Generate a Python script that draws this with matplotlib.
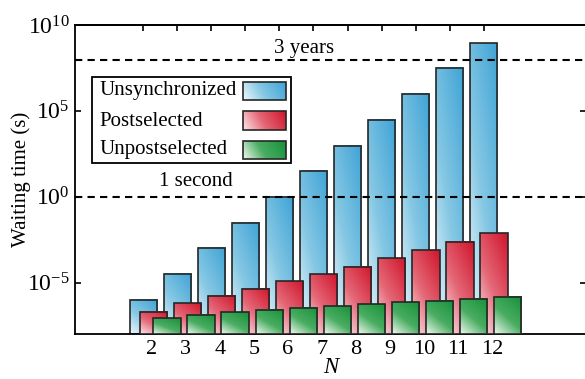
import numpy as np
import matplotlib
matplotlib.use("Agg")
import matplotlib.pyplot as plt
from matplotlib.colors import LinearSegmentedColormap
from matplotlib.patches import Rectangle
from matplotlib.ticker import NullLocator

plt.rcParams['font.family'] = ['Liberation Serif', 'DejaVu Serif']
plt.rcParams['mathtext.fontset'] = 'custom'
plt.rcParams['mathtext.rm'] = 'Liberation Serif'
plt.rcParams['mathtext.it'] = 'Liberation Serif:italic'
plt.rcParams['font.size'] = 15

# number of photons
N = np.arange(2, 13)
# log10 of the waiting time in seconds
log_unsync = [-6.0, -4.49, -2.97, -1.51, 0.0, 1.51, 2.97, 4.48, 5.99, 7.5, 8.95]
log_post = [-6.69, -6.2, -5.76, -5.35, -4.94, -4.52, -4.07, -3.6, -3.12, -2.63, -2.13]
log_unpost = [-7.09, -6.88, -6.73, -6.59, -6.47, -6.38, -6.26, -6.15, -6.05, -5.95, -5.83]

unsync = 10.0 ** np.array(log_unsync)
post = 10.0 ** np.array(log_post)
unpost = 10.0 ** np.array(log_unpost)

names = ['Unsynchronized', 'Postselected', 'Unpostselected']
one_second = 1.0
three_years = 3 * 365.25 * 24 * 3600

light = ['#eef8fc', '#fde6e9', '#f0f9f0']
mid = ['#86c8e4', '#e46877', '#4aad62']
dark = ['#3fa3d6', '#d0152c', '#17913a']
offsets = [0.0, 0.3, 0.7]
ymin = 1e-8

cmaps = [LinearSegmentedColormap.from_list('g%d' % i, [(0, light[i]), (0.45, mid[i]), (1, dark[i])])
         for i in range(3)]

# diagonal gradients, light at bottom-left, dark at top-right
u, v = np.meshgrid(np.linspace(0, 1, 64), np.linspace(0, 1, 64))
grad_bar = 0.4 * u + 0.6 * v
grad_key = 0.8 * u + 0.2 * v

fig = plt.figure(figsize=(5.85, 3.79), dpi=100)
ax = fig.add_axes([75 / 585, 45 / 379, 511 / 585, 309 / 379])
ax.set_yscale('log')
ax.set_xlim(0, 15)
ax.set_ylim(ymin, 1e10)

toAxes = ax.transAxes.inverted()


def data_to_axes(x, y):
    return toAxes.transform(ax.transData.transform((x, y)))


for k, vals in enumerate([unsync, post, unpost]):
    z = 2 + k
    bars = ax.bar(N + offsets[k], vals - ymin, width=0.8, bottom=ymin,
                  facecolor='none', edgecolor='#262626', linewidth=1.2, zorder=z + 0.5)
    for rect in bars:
        x0 = rect.get_x()
        x1 = x0 + rect.get_width()
        a0 = data_to_axes(x0, ymin)
        a1 = data_to_axes(x1, rect.get_y() + rect.get_height())
        ax.imshow(grad_bar, cmap=cmaps[k], extent=[a0[0], a1[0], a0[1], a1[1]],
                  transform=ax.transAxes, origin='lower', aspect='auto',
                  interpolation='bilinear', zorder=z)

ax.set_xlim(0, 15)
ax.set_ylim(ymin, 1e10)

# reference lines
dash = dict(color='black', linewidth=1.5, dashes=(3.5, 2.5), zorder=10)
ax.axhline(three_years, **dash)
ax.axhline(one_second, **dash)
ax.text(6.73, 10 ** 8.66, '3 years', ha='center', va='center', fontsize=15, zorder=11)
ax.text(3.54, 10 ** 0.87, '1 second', ha='center', va='center', fontsize=15, zorder=11)


# legend drawn by hand so the swatches can carry gradients
def px(x, y):
    return ((x - 75) / 511, (334 - y) / 309)


bx, by = px(92, 163)
ax.add_patch(Rectangle((bx, by), 199 / 511, 86 / 309, transform=ax.transAxes,
                       facecolor='white', edgecolor='black', linewidth=1.3, zorder=20))
rows = [(91, 82, 100), (121, 111, 130), (149.5, 141, 159)]
for k, (yc, yt, yb) in enumerate(rows):
    tx, ty = px(99, yc)
    ax.text(tx, ty, names[k], transform=ax.transAxes, ha='left', va='center',
            fontsize=15, zorder=21)
    sx0, sy0 = px(243, yb)
    sx1, sy1 = px(286, yt)
    ax.imshow(grad_key, cmap=cmaps[k], extent=[sx0, sx1, sy0, sy1],
              transform=ax.transAxes, origin='lower', aspect='auto',
              interpolation='bilinear', zorder=21)
    ax.add_patch(Rectangle((sx0, sy0), sx1 - sx0, sy1 - sy0, transform=ax.transAxes,
                           facecolor='none', edgecolor='#262626', linewidth=1.2, zorder=22))

ax.set_xlim(0, 15)
ax.set_ylim(ymin, 1e10)

ax.set_yticks([1e-5, 1e0, 1e5, 1e10])
ax.yaxis.set_minor_locator(NullLocator())
ax.set_xticks(N + 0.25)
ax.set_xticklabels([str(n) for n in N])
ax.tick_params(axis='x', length=0, pad=4, labelsize=16)
ax.tick_params(axis='y', direction='in', length=4, width=1.2, right=True, labelsize=17, pad=4)
top = ax.secondary_xaxis('top')
top.set_xticks(N)
top.tick_params(direction='in', length=4, width=1.2, labeltop=False)
for s in list(ax.spines.values()) + [top.spines['top']]:
    s.set_linewidth(1.3)

ax.set_ylabel('Waiting time (s)', fontsize=15, labelpad=-3)
ax.set_xlabel('N', fontsize=16.5, fontstyle='italic', va='bottom')
ax.xaxis.set_label_coords(0.5, (334 - 378) / 309)

fig.savefig('out.png', dpi=100)
